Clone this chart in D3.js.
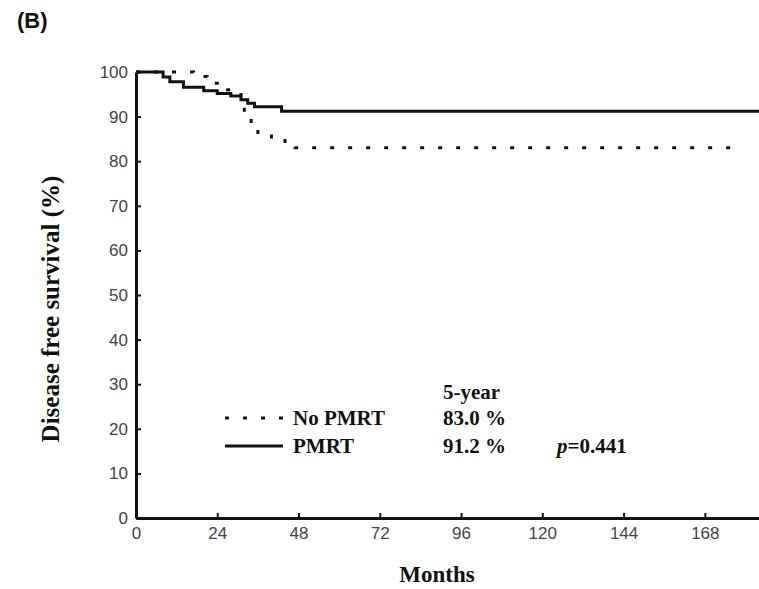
<!DOCTYPE html>
<html>
<head>
<meta charset="utf-8">
<script src="https://cdn.jsdelivr.net/npm/d3@7"></script>
<style>
  body { margin: 0; background: #fff; }
  svg { display: block; }
</style>
</head>
<body>
<svg id="chart" width="759" height="589"></svg>
<script>
// survival steps: [month, %]
var noPmrt = [[0,100],[17,99],[21,97.5],[27,96],[31,94],[32,91],[34,88],[36,86],[40,85],[44,84],[47,83],[176,83]];
var pmrt = [[0,100],[8,98.9],[10,97.8],[14,96.6],[20,95.8],[24,95.2],[28,94.6],[31,93.8],[33,93],[35,92.2],[43,91.2],[184,91.2]];
var xTicks = [0, 24, 48, 72, 96, 120, 144, 168];
var yTicks = [0, 10, 20, 30, 40, 50, 60, 70, 80, 90, 100];
var legendRows = [
  { name: "No PMRT", rate: "83.0 %", dash: "4,14", p: null },
  { name: "PMRT", rate: "91.2 %", dash: null, p: "=0.441" }
];

var svg = d3.select("#chart");
var serif = "'Liberation Serif', 'Times New Roman', serif";
var sans = "'Liberation Sans', Arial, sans-serif";

var x = d3.scaleLinear().domain([0, 184]).range([136, 759]);
var y = d3.scaleLinear().domain([0, 100]).range([518, 72]);

// axes
var xAxis = svg.append("g")
    .attr("transform", "translate(0," + y(0) + ")")
    .call(d3.axisBottom(x).tickValues(xTicks).tickSizeInner(-5).tickSizeOuter(0).tickPadding(9));
var yAxis = svg.append("g")
    .attr("transform", "translate(" + x(0) + ",0)")
    .call(d3.axisLeft(y).tickValues(yTicks).tickSizeInner(-5).tickSizeOuter(0).tickPadding(8));

[xAxis, yAxis].forEach(function(a) {
    a.select(".domain").attr("stroke", "#111").attr("stroke-width", 3);
    a.selectAll(".tick line").attr("stroke", "#111").attr("stroke-width", 2);
    a.selectAll(".tick text")
        .attr("fill", "#444")
        .style("font-family", sans)
        .style("font-size", "17px");
});

// curves
var line = d3.line()
    .x(function(d) { return x(d[0]); })
    .y(function(d) { return y(d[1]); })
    .curve(d3.curveStepAfter);

svg.append("path")
    .datum(noPmrt)
    .attr("d", line)
    .attr("fill", "none")
    .attr("stroke", "#111")
    .attr("stroke-width", 3)
    .attr("stroke-dasharray", "4,14");

svg.append("path")
    .datum(pmrt)
    .attr("d", line)
    .attr("fill", "none")
    .attr("stroke", "#111")
    .attr("stroke-width", 3);

// titles
svg.append("text")
    .attr("x", 17).attr("y", 28)
    .style("font-family", sans).style("font-weight", "bold").style("font-size", "22px")
    .attr("fill", "#111")
    .text("(B)");

svg.append("text")
    .attr("transform", "translate(59,309) rotate(-90)")
    .attr("text-anchor", "middle")
    .style("font-family", serif).style("font-weight", "bold").style("font-size", "25px")
    .attr("fill", "#111")
    .text("Disease free survival (%)");

svg.append("text")
    .attr("x", 437).attr("y", 582)
    .attr("text-anchor", "middle")
    .style("font-family", serif).style("font-weight", "bold").style("font-size", "23px")
    .attr("fill", "#111")
    .text("Months");

// legend
var lg = svg.append("g")
    .style("font-family", serif).style("font-weight", "bold").style("font-size", "21px")
    .attr("fill", "#111");

lg.append("text").attr("x", 443).attr("y", 399).text("5-year");

legendRows.forEach(function(r, i) {
    var ly = 418 + i * 28;
    var seg = lg.append("line")
        .attr("x1", 225).attr("x2", 283)
        .attr("y1", ly).attr("y2", ly)
        .attr("stroke", "#111").attr("stroke-width", 3);
    if (r.dash) seg.attr("stroke-dasharray", r.dash);
    lg.append("text").attr("x", 293).attr("y", ly + 7).text(r.name);
    lg.append("text").attr("x", 443).attr("y", ly + 7).text(r.rate);
    if (r.p) {
        var t = lg.append("text").attr("x", 557).attr("y", ly + 7);
        t.append("tspan").style("font-style", "italic").text("p");
        t.append("tspan").text(r.p);
    }
});
</script>
</body>
</html>
